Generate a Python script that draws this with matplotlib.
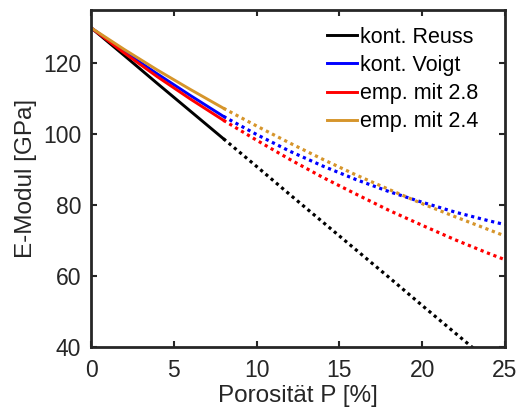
import matplotlib
matplotlib.use("Agg")
import matplotlib.pyplot as plt

plt.rcParams['font.family'] = ['Liberation Sans', 'DejaVu Sans']

# porosity in %, moduli in GPa
P = [0, 2, 4, 6, 8, 10, 12, 14, 16, 18, 20, 22, 24, 25]
reuss = [130, 122.2, 114.3, 106.5, 98.7, 90.9, 83.0, 75.2, 67.4, 59.6, 51.7, 43.9, 36.1, 32.2]
voigt = [130, 123.3, 117.0, 110.9, 105.0, 99.9, 95.2, 91.0, 87.2, 83.8, 80.8, 78.0, 75.6, 74.5]
emp28 = [130, 122.9, 116.2, 109.9, 103.9, 98.3, 92.9, 87.8, 83.1, 78.5, 74.3, 70.2, 66.4, 64.6]
emp24 = [130, 123.9, 118.1, 112.6, 107.3, 102.3, 97.5, 92.9, 88.5, 84.4, 80.4, 76.7, 73.1, 71.3]
P_cut = 8  # solid up to here, dotted beyond

series = [("kont. Reuss", reuss, "black"),
          ("kont. Voigt", voigt, "blue"),
          ("emp. mit 2.8", emp28, "red"),
          ("emp. mit 2.4", emp24, "#d6952b")]

fig = plt.figure(figsize=(5.2, 4.16), dpi=100)
ax = fig.add_axes([0.175, 0.166, 0.796, 0.81])

for name, vals, c in series:
    i = P.index(P_cut)
    ax.plot(P[:i + 1], vals[:i + 1], color=c, lw=2.1, label=name)
    ax.plot(P[i:], vals[i:], color=c, lw=2.3, ls=(0, (1, 1.15)))

ax.set_xlim(0, 25)
ax.set_ylim(40, 135)
ax.set_xticks([0, 5, 10, 15, 20, 25])
ax.set_yticks([40, 60, 80, 100, 120])
ax.tick_params(direction='in', top=True, right=True, length=4, width=1.5,
               labelsize=16.5, colors='#262626')
ax.tick_params(axis='x', pad=9)
ax.tick_params(axis='y', pad=7)
for s in ax.spines.values():
    s.set_linewidth(2)
    s.set_color('#262626')
ax.set_xlabel("Porosität P [%]", fontsize=17.5, color='#262626', labelpad=2)
ax.set_ylabel("E-Modul [GPa]", fontsize=17.5, color='#262626', labelpad=4)
ax.legend(loc='upper right', bbox_to_anchor=(0.935, 0.95), frameon=False,
          fontsize=15.5, handlelength=1.4, handletextpad=0.12,
          labelspacing=0.33, borderaxespad=0, borderpad=0)

fig.savefig("out.png", dpi=100)
